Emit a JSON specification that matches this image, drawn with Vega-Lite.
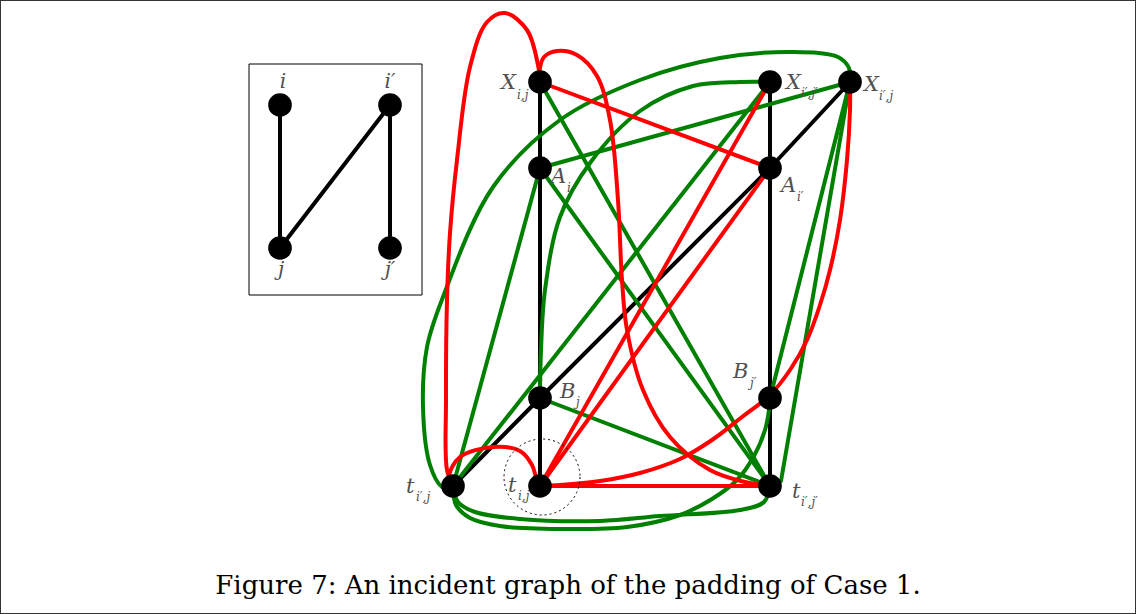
{
  "$schema": "https://vega.github.io/schema/vega-lite/v6.json",
  "width": 1136,
  "height": 614,
  "padding": 0,
  "autosize": {"type": "fit", "contains": "padding"},
  "config": {"view": {"stroke": "#333333", "strokeWidth": 2}},
  "datasets": {
    "box": [{"x": 249, "x2": 422, "y": 64, "y2": 295}],
    "nodes": [
      {"id": "Xij", "x": 540, "y": 82}, {"id": "Xi'j'", "x": 770, "y": 82}, {"id": "Xi'j", "x": 850, "y": 82},
      {"id": "Ai", "x": 540, "y": 168}, {"id": "Ai'", "x": 770, "y": 168},
      {"id": "Bj", "x": 540, "y": 398}, {"id": "Bj'", "x": 770, "y": 398},
      {"id": "ti'j", "x": 453, "y": 486}, {"id": "tij", "x": 540, "y": 486}, {"id": "ti'j'", "x": 770, "y": 486},
      {"id": "i", "x": 280, "y": 105}, {"id": "i'", "x": 390, "y": 105}, {"id": "j", "x": 280, "y": 248}, {"id": "j'", "x": 390, "y": 248}
    ],
    "circle": [{"x": 542, "y": 477}],
    "edges": [
      {"e": "b1", "c": "k", "k": 0, "x": 540, "y": 82}, {"e": "b1", "c": "k", "k": 1, "x": 540, "y": 486},
      {"e": "b2", "c": "k", "k": 0, "x": 770, "y": 82}, {"e": "b2", "c": "k", "k": 1, "x": 770, "y": 486},
      {"e": "b3", "c": "k", "k": 0, "x": 453, "y": 486}, {"e": "b3", "c": "k", "k": 1, "x": 540, "y": 398},
      {"e": "b4", "c": "k", "k": 0, "x": 540, "y": 398}, {"e": "b4", "c": "k", "k": 1, "x": 770, "y": 168},
      {"e": "b5", "c": "k", "k": 0, "x": 770, "y": 168}, {"e": "b5", "c": "k", "k": 1, "x": 850, "y": 82},
      {"e": "b6", "c": "k", "k": 0, "x": 280, "y": 105}, {"e": "b6", "c": "k", "k": 1, "x": 280, "y": 248},
      {"e": "b7", "c": "k", "k": 0, "x": 280, "y": 248}, {"e": "b7", "c": "k", "k": 1, "x": 390, "y": 105},
      {"e": "b8", "c": "k", "k": 0, "x": 390, "y": 105}, {"e": "b8", "c": "k", "k": 1, "x": 390, "y": 248},

      {"e": "g1", "c": "g", "k": 0, "x": 540, "y": 82}, {"e": "g1", "c": "g", "k": 1, "x": 770, "y": 486},
      {"e": "g2", "c": "g", "k": 0, "x": 540, "y": 168}, {"e": "g2", "c": "g", "k": 1, "x": 770, "y": 486},
      {"e": "g3", "c": "g", "k": 0, "x": 540, "y": 168}, {"e": "g3", "c": "g", "k": 1, "x": 850, "y": 82},
      {"e": "g4", "c": "g", "k": 0, "x": 540, "y": 398}, {"e": "g4", "c": "g", "k": 1, "x": 770, "y": 486},
      {"e": "g5", "c": "g", "k": 0, "x": 453, "y": 486}, {"e": "g5", "c": "g", "k": 1, "x": 540, "y": 168},
      {"e": "g6", "c": "g", "k": 0, "x": 453, "y": 486}, {"e": "g6", "c": "g", "k": 1, "x": 770, "y": 82},
      {"e": "g7", "c": "g", "k": 0, "x": 770, "y": 398}, {"e": "g7", "c": "g", "k": 1, "x": 850, "y": 82},
      {"e": "g8", "c": "g", "k": 0, "x": 850, "y": 82}, {"e": "g8", "c": "g", "k": 1, "x": 781, "y": 481},
      {"e": "g9", "c": "g", "k": 0, "x": 850, "y": 82}, {"e": "g9", "c": "g", "k": 1, "x": 849, "y": 68},
      {"e": "g9", "c": "g", "k": 2, "x": 838, "y": 57}, {"e": "g9", "c": "g", "k": 3, "x": 793, "y": 52},
      {"e": "g9", "c": "g", "k": 4, "x": 720, "y": 58}, {"e": "g9", "c": "g", "k": 5, "x": 640, "y": 80},
      {"e": "g9", "c": "g", "k": 6, "x": 560, "y": 120}, {"e": "g9", "c": "g", "k": 7, "x": 493, "y": 187},
      {"e": "g9", "c": "g", "k": 8, "x": 443, "y": 297}, {"e": "g9", "c": "g", "k": 9, "x": 427, "y": 347},
      {"e": "g9", "c": "g", "k": 10, "x": 423, "y": 407}, {"e": "g9", "c": "g", "k": 11, "x": 430, "y": 465},
      {"e": "g9", "c": "g", "k": 12, "x": 442, "y": 487}, {"e": "g9", "c": "g", "k": 13, "x": 453, "y": 489},
      {"e": "g10", "c": "g", "k": 0, "x": 770, "y": 82}, {"e": "g10", "c": "g", "k": 1, "x": 740, "y": 82},
      {"e": "g10", "c": "g", "k": 2, "x": 693, "y": 86}, {"e": "g10", "c": "g", "k": 3, "x": 640, "y": 111},
      {"e": "g10", "c": "g", "k": 4, "x": 590, "y": 163}, {"e": "g10", "c": "g", "k": 5, "x": 560, "y": 217},
      {"e": "g10", "c": "g", "k": 6, "x": 545, "y": 290}, {"e": "g10", "c": "g", "k": 7, "x": 541, "y": 350},
      {"e": "g10", "c": "g", "k": 8, "x": 540, "y": 398},
      {"e": "g11", "c": "g", "k": 0, "x": 453, "y": 486}, {"e": "g11", "c": "g", "k": 1, "x": 458, "y": 502},
      {"e": "g11", "c": "g", "k": 2, "x": 475, "y": 512}, {"e": "g11", "c": "g", "k": 3, "x": 520, "y": 519},
      {"e": "g11", "c": "g", "k": 4, "x": 600, "y": 521}, {"e": "g11", "c": "g", "k": 5, "x": 660, "y": 516},
      {"e": "g11", "c": "g", "k": 6, "x": 740, "y": 510}, {"e": "g11", "c": "g", "k": 7, "x": 764, "y": 502},
      {"e": "g11", "c": "g", "k": 8, "x": 770, "y": 486},
      {"e": "g12", "c": "g", "k": 0, "x": 453, "y": 486}, {"e": "g12", "c": "g", "k": 1, "x": 456, "y": 505},
      {"e": "g12", "c": "g", "k": 2, "x": 470, "y": 518}, {"e": "g12", "c": "g", "k": 3, "x": 500, "y": 526},
      {"e": "g12", "c": "g", "k": 4, "x": 560, "y": 529}, {"e": "g12", "c": "g", "k": 5, "x": 627, "y": 527},
      {"e": "g12", "c": "g", "k": 6, "x": 680, "y": 515}, {"e": "g12", "c": "g", "k": 7, "x": 712, "y": 499},
      {"e": "g12", "c": "g", "k": 8, "x": 737, "y": 480}, {"e": "g12", "c": "g", "k": 9, "x": 754, "y": 456},
      {"e": "g12", "c": "g", "k": 10, "x": 765, "y": 430}, {"e": "g12", "c": "g", "k": 11, "x": 769, "y": 410},
      {"e": "g12", "c": "g", "k": 12, "x": 770, "y": 398},

      {"e": "r1", "c": "r", "k": 0, "x": 540, "y": 82}, {"e": "r1", "c": "r", "k": 1, "x": 770, "y": 168},
      {"e": "r2", "c": "r", "k": 0, "x": 540, "y": 486}, {"e": "r2", "c": "r", "k": 1, "x": 770, "y": 82},
      {"e": "r3", "c": "r", "k": 0, "x": 540, "y": 486}, {"e": "r3", "c": "r", "k": 1, "x": 770, "y": 168},
      {"e": "r4", "c": "r", "k": 0, "x": 540, "y": 486}, {"e": "r4", "c": "r", "k": 1, "x": 770, "y": 486},
      {"e": "r5", "c": "r", "k": 0, "x": 540, "y": 486}, {"e": "r5", "c": "r", "k": 1, "x": 560, "y": 485},
      {"e": "r5", "c": "r", "k": 2, "x": 600, "y": 481}, {"e": "r5", "c": "r", "k": 3, "x": 640, "y": 473},
      {"e": "r5", "c": "r", "k": 4, "x": 680, "y": 459}, {"e": "r5", "c": "r", "k": 5, "x": 712, "y": 440},
      {"e": "r5", "c": "r", "k": 6, "x": 742, "y": 417}, {"e": "r5", "c": "r", "k": 7, "x": 770, "y": 395},
      {"e": "r5", "c": "r", "k": 8, "x": 790, "y": 370}, {"e": "r5", "c": "r", "k": 9, "x": 807, "y": 340},
      {"e": "r5", "c": "r", "k": 10, "x": 820, "y": 305}, {"e": "r5", "c": "r", "k": 11, "x": 830, "y": 270},
      {"e": "r5", "c": "r", "k": 12, "x": 840, "y": 220}, {"e": "r5", "c": "r", "k": 13, "x": 847, "y": 160},
      {"e": "r5", "c": "r", "k": 14, "x": 850, "y": 110}, {"e": "r5", "c": "r", "k": 15, "x": 850, "y": 82},
      {"e": "r6", "c": "r", "k": 0, "x": 540, "y": 82}, {"e": "r6", "c": "r", "k": 1, "x": 540, "y": 68},
      {"e": "r6", "c": "r", "k": 2, "x": 544, "y": 57}, {"e": "r6", "c": "r", "k": 3, "x": 557, "y": 51},
      {"e": "r6", "c": "r", "k": 4, "x": 577, "y": 55}, {"e": "r6", "c": "r", "k": 5, "x": 597, "y": 76},
      {"e": "r6", "c": "r", "k": 6, "x": 610, "y": 120}, {"e": "r6", "c": "r", "k": 7, "x": 618, "y": 200},
      {"e": "r6", "c": "r", "k": 8, "x": 622, "y": 280}, {"e": "r6", "c": "r", "k": 9, "x": 627, "y": 330},
      {"e": "r6", "c": "r", "k": 10, "x": 643, "y": 390}, {"e": "r6", "c": "r", "k": 11, "x": 670, "y": 437},
      {"e": "r6", "c": "r", "k": 12, "x": 710, "y": 470}, {"e": "r6", "c": "r", "k": 13, "x": 745, "y": 482},
      {"e": "r6", "c": "r", "k": 14, "x": 770, "y": 486},
      {"e": "r7", "c": "r", "k": 0, "x": 540, "y": 82}, {"e": "r7", "c": "r", "k": 1, "x": 538, "y": 65},
      {"e": "r7", "c": "r", "k": 2, "x": 527, "y": 30}, {"e": "r7", "c": "r", "k": 3, "x": 505, "y": 13},
      {"e": "r7", "c": "r", "k": 4, "x": 487, "y": 22}, {"e": "r7", "c": "r", "k": 5, "x": 470, "y": 67},
      {"e": "r7", "c": "r", "k": 6, "x": 457, "y": 160}, {"e": "r7", "c": "r", "k": 7, "x": 450, "y": 233},
      {"e": "r7", "c": "r", "k": 8, "x": 447, "y": 300}, {"e": "r7", "c": "r", "k": 9, "x": 446, "y": 400},
      {"e": "r7", "c": "r", "k": 10, "x": 447, "y": 470}, {"e": "r7", "c": "r", "k": 11, "x": 453, "y": 486},
      {"e": "r8", "c": "r", "k": 0, "x": 450, "y": 482}, {"e": "r8", "c": "r", "k": 1, "x": 449, "y": 475},
      {"e": "r8", "c": "r", "k": 2, "x": 460, "y": 457}, {"e": "r8", "c": "r", "k": 3, "x": 493, "y": 447},
      {"e": "r8", "c": "r", "k": 4, "x": 520, "y": 451}, {"e": "r8", "c": "r", "k": 5, "x": 532, "y": 465},
      {"e": "r8", "c": "r", "k": 6, "x": 536, "y": 477}, {"e": "r8", "c": "r", "k": 7, "x": 540, "y": 486}
    ],
    "labels": [
      {"t": "X", "x": 501, "y": 89, "s": "i,j", "sx": 517, "sy": 99},
      {"t": "A", "x": 551, "y": 183, "s": "i", "sx": 567, "sy": 192},
      {"t": "B", "x": 560, "y": 398, "s": "j", "sx": 576, "sy": 406},
      {"t": "t", "x": 508, "y": 492, "s": "i,j", "sx": 518, "sy": 500},
      {"t": "t", "x": 406, "y": 493, "s": "i′,j", "sx": 416, "sy": 501},
      {"t": "X", "x": 786, "y": 89, "s": "i′,j′", "sx": 801, "sy": 97},
      {"t": "X", "x": 864, "y": 91, "s": "i′,j", "sx": 879, "sy": 100},
      {"t": "A", "x": 781, "y": 192, "s": "i′", "sx": 797, "sy": 201},
      {"t": "B", "x": 733, "y": 378, "s": "j′", "sx": 750, "sy": 387},
      {"t": "t", "x": 792, "y": 498, "s": "i′,j′", "sx": 801, "sy": 506}
    ],
    "inlabels": [
      {"t": "i", "x": 283, "y": 88},
      {"t": "i′", "x": 390, "y": 88},
      {"t": "j", "x": 281, "y": 276},
      {"t": "j′", "x": 390, "y": 276}
    ],
    "caption": [{"t": "Figure 7: An incident graph of the padding of Case 1.", "x": 568, "y": 594}]
  },
  "layer": [
    {
      "data": {"name": "box"},
      "mark": {"type": "rect", "fill": null, "stroke": "#000000", "strokeWidth": 1},
      "encoding": {
        "x": {"field": "x", "type": "quantitative", "scale": {"domain": [0, 1136], "nice": false, "zero": false}, "axis": null},
        "x2": {"field": "x2"},
        "y": {"field": "y", "type": "quantitative", "scale": {"domain": [0, 614], "reverse": true, "nice": false, "zero": false}, "axis": null},
        "y2": {"field": "y2"}
      }
    },
    {
      "data": {"name": "edges"},
      "mark": {"type": "line", "interpolate": "catmull-rom", "strokeWidth": 4, "strokeCap": "round"},
      "encoding": {
        "x": {"field": "x", "type": "quantitative", "scale": {"domain": [0, 1136], "nice": false, "zero": false}, "axis": null},
        "y": {"field": "y", "type": "quantitative", "scale": {"domain": [0, 614], "reverse": true, "nice": false, "zero": false}, "axis": null},
        "color": {"field": "c", "type": "nominal", "scale": {"domain": ["k", "g", "r"], "range": ["#000000", "#008000", "#ff0000"]}, "legend": null},
        "detail": {"field": "e"},
        "order": {"field": "k", "type": "quantitative"}
      }
    },
    {
      "data": {"name": "circle"},
      "mark": {"type": "point", "shape": "circle", "size": 5776, "filled": false, "stroke": "#000000", "strokeWidth": 1, "strokeDash": [2, 3], "opacity": 1},
      "encoding": {
        "x": {"field": "x", "type": "quantitative", "scale": {"domain": [0, 1136], "nice": false, "zero": false}, "axis": null},
        "y": {"field": "y", "type": "quantitative", "scale": {"domain": [0, 614], "reverse": true, "nice": false, "zero": false}, "axis": null}
      }
    },
    {
      "data": {"name": "nodes"},
      "mark": {"type": "point", "shape": "circle", "size": 560, "filled": true, "color": "#000000", "opacity": 1},
      "encoding": {
        "x": {"field": "x", "type": "quantitative", "scale": {"domain": [0, 1136], "nice": false, "zero": false}, "axis": null},
        "y": {"field": "y", "type": "quantitative", "scale": {"domain": [0, 614], "reverse": true, "nice": false, "zero": false}, "axis": null}
      }
    },
    {
      "data": {"name": "labels"},
      "mark": {"type": "text", "font": "DejaVu Serif", "fontStyle": "italic", "fontSize": 21, "color": "#505050", "align": "left", "baseline": "alphabetic"},
      "encoding": {
        "x": {"field": "x", "type": "quantitative", "scale": {"domain": [0, 1136], "nice": false, "zero": false}, "axis": null},
        "y": {"field": "y", "type": "quantitative", "scale": {"domain": [0, 614], "reverse": true, "nice": false, "zero": false}, "axis": null},
        "text": {"field": "t"}
      }
    },
    {
      "data": {"name": "labels"},
      "mark": {"type": "text", "font": "DejaVu Serif", "fontStyle": "italic", "fontSize": 12, "color": "#505050", "align": "left", "baseline": "alphabetic"},
      "encoding": {
        "x": {"field": "sx", "type": "quantitative", "scale": {"domain": [0, 1136], "nice": false, "zero": false}, "axis": null},
        "y": {"field": "sy", "type": "quantitative", "scale": {"domain": [0, 614], "reverse": true, "nice": false, "zero": false}, "axis": null},
        "text": {"field": "s"}
      }
    },
    {
      "data": {"name": "inlabels"},
      "mark": {"type": "text", "font": "DejaVu Serif", "fontStyle": "italic", "fontSize": 20, "color": "#505050", "align": "center", "baseline": "alphabetic"},
      "encoding": {
        "x": {"field": "x", "type": "quantitative", "scale": {"domain": [0, 1136], "nice": false, "zero": false}, "axis": null},
        "y": {"field": "y", "type": "quantitative", "scale": {"domain": [0, 614], "reverse": true, "nice": false, "zero": false}, "axis": null},
        "text": {"field": "t"}
      }
    },
    {
      "data": {"name": "caption"},
      "mark": {"type": "text", "font": "DejaVu Serif", "fontSize": 26, "color": "#000000", "align": "center", "baseline": "alphabetic"},
      "encoding": {
        "x": {"field": "x", "type": "quantitative", "scale": {"domain": [0, 1136], "nice": false, "zero": false}, "axis": null},
        "y": {"field": "y", "type": "quantitative", "scale": {"domain": [0, 614], "reverse": true, "nice": false, "zero": false}, "axis": null},
        "text": {"field": "t"}
      }
    }
  ]
}
